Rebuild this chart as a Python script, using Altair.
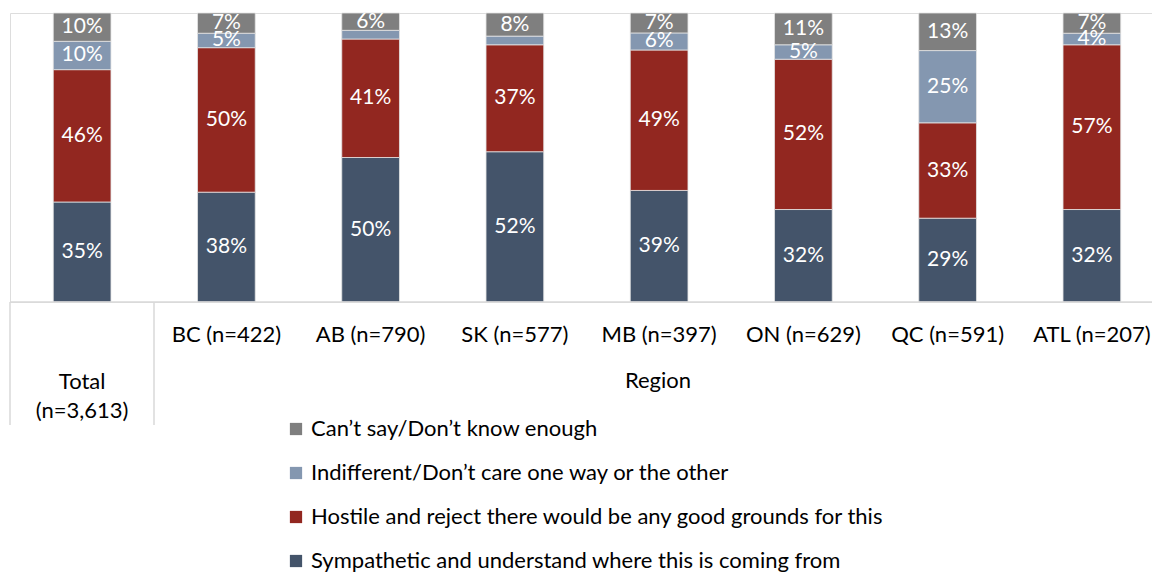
import altair as alt
import pandas as pd

FONT = "Lato"

categories = ["Total (n=3,613)", "BC (n=422)", "AB (n=790)", "SK (n=577)",
              "MB (n=397)", "ON (n=629)", "QC (n=591)", "ATL (n=207)"]
responses = ["Can’t say/Don’t know enough",
             "Indifferent/Don’t care one way or the other",
             "Hostile and reject there would be any good grounds for this",
             "Sympathetic and understand where this is coming from"]
colors = ["#7F7F7F", "#8497B0", "#922720", "#44546A"]

sympathetic = [34.6, 38, 50, 52, 38.6, 32, 29, 32]
hostile = [45.8, 50, 41, 37, 48.6, 52, 33, 57]
indifferent = [9.8, 5, 3, 3, 5.9, 5, 25, 4]
cant_say = [9.8, 7, 6, 8, 6.9, 11, 13, 7]

series = [cant_say, indifferent, hostile, sympathetic]
rows = []
for i, cat in enumerate(categories):
    for j, resp in enumerate(responses):
        rows.append({"category": cat, "response": resp, "value": series[j][i], "ord": 3 - j})
df = pd.DataFrame(rows)

W, H = 1142, 289

xscale = alt.Scale(domain=categories, range=[0, 1154], paddingInner=0.6, paddingOuter=0.3)
x_enc = alt.X("category:N", sort=categories, scale=xscale, axis=None)

base = alt.Chart(df).transform_stack(
    stack="value", groupby=["category"], as_=["y0", "y1"], sort=[alt.SortField("ord")]
).transform_calculate(
    mid="(datum.y0 + datum.y1) / 2",
    label="format(datum.value, '.0f') + '%'"
)

bars = base.mark_bar(stroke="#e3e3e3", strokeWidth=0.8).encode(
    x=x_enc,
    y=alt.Y("y0:Q", scale=alt.Scale(domain=[0, 100]), axis=None),
    y2="y1:Q",
    color=alt.Color("response:N", scale=alt.Scale(domain=responses, range=colors),
                    legend=alt.Legend(title=None, orient="none", legendX=275, legendY=405,
                                      direction="vertical", symbolType="square",
                                      symbolSize=150, symbolStrokeWidth=0,
                                      labelFontSize=22, labelFont=FONT, labelColor="#000000",
                                      rowPadding=22, labelLimit=900, labelOffset=4, padding=0)),
    order=alt.Order("ord:Q"),
)

labels = base.transform_filter("datum.value >= 3.5").mark_text(
    color="white", fontSize=21, font=FONT, baseline="middle", align="center"
).encode(
    x=x_enc,
    y=alt.Y("mid:Q", scale=alt.Scale(domain=[0, 100]), axis=None),
    text="label:N",
)

cat_df = pd.DataFrame({"category": categories})
region_labels = alt.Chart(cat_df).transform_filter(
    alt.datum.category != categories[0]
).mark_text(fontSize=22, font=FONT, color="#000000", baseline="middle", align="center").encode(
    x=x_enc, y=alt.value(322), text="category:N"
)
total_label = alt.Chart(cat_df).transform_filter(
    alt.datum.category == categories[0]
).mark_text(fontSize=22, font=FONT, color="#000000", baseline="alphabetic", align="center",
            lineBreak=" ", lineHeight=29).encode(
    x=x_enc, y=alt.value(376), text="category:N"
)
group_label = alt.Chart(pd.DataFrame({"t": ["Region"]})).mark_text(
    fontSize=22, font=FONT, color="#000000", baseline="middle", align="center"
).encode(x=alt.value(648), y=alt.value(368), text="t:N")

axis_line = alt.Chart(pd.DataFrame({"a": [0]})).mark_rule(color="#d9d9d9", strokeWidth=1.5).encode(
    x=alt.value(0), x2=alt.value(W), y=alt.value(H)
)
sep_df = pd.DataFrame({"xp": [0, 144]})
separators = alt.Chart(sep_df).mark_rule(color="#d9d9d9", strokeWidth=1.5).encode(
    x=alt.X("xp:Q", scale=None), y=alt.value(H), y2=alt.value(412)
)

chart = alt.layer(bars, labels, axis_line, separators, region_labels, total_label, group_label).properties(
    width=W, height=H,
    padding={"left": 10, "top": 13, "right": 0, "bottom": 273},
    autosize=alt.AutoSizeParams(type="none"),
).configure_view(stroke=None).configure(background="white")

chart.save("out.html", embed_options={"renderer": "svg", "actions": False})
